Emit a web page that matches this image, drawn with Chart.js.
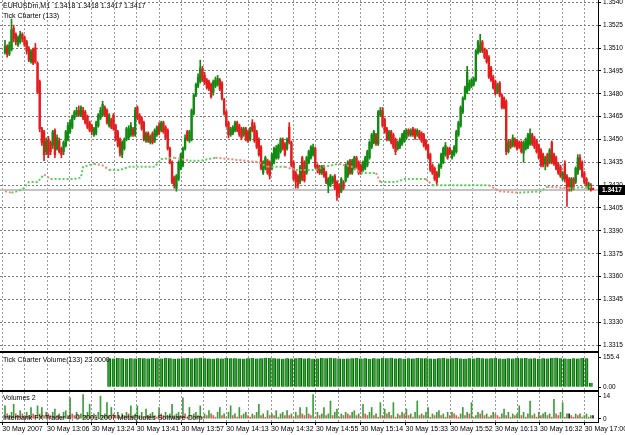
<!DOCTYPE html>
<html><head><meta charset="utf-8">
<script src="https://cdn.jsdelivr.net/npm/chart.js@4.4.1/dist/chart.umd.min.js"></script>
<style>html,body{margin:0;padding:0;background:#fff;overflow:hidden}#wrap{position:relative;width:625px;height:435px}</style>
</head><body><div id="wrap"><canvas id="c" width="625" height="435"></canvas></div>
<script>
const symbolName = 'EURUSDm,M1';
const indicatorName = 'Tick Charter (133)';
const tickVolName = 'Tick Charter Volume(133)';
const volName = 'Volumes';
const copyright = 'Interbank FX Trader 4, \u00a9 2001-2007 MetaQuotes Software Corp.';

const timeLabels = ['30 May 2007','30 May 13:06','30 May 13:24','30 May 13:41','30 May 13:57','30 May 14:13','30 May 14:32','30 May 14:55','30 May 15:14','30 May 15:33','30 May 15:52','30 May 16:13','30 May 16:32','30 May 17:00'];
const priceTicks = [1.3315,1.3330,1.3345,1.3360,1.3375,1.3390,1.3405,1.3420,1.3435,1.3450,1.3465,1.3480,1.3495,1.3510,1.3525,1.3540];
const tickVolTicks = [0, 155.4];
const volTicks = [0, 14];

const opens = [
1.3507,1.3511,1.3506,1.3509,1.3523,1.3519,1.3512,1.3514,1.3519,1.3517,
1.3514,1.3510,1.3501,1.3509,1.3510,1.3500,1.3488,1.3457,1.3455,1.3442,
1.3450,1.3448,1.3446,1.3456,1.3444,1.3449,1.3444,1.3442,1.3446,1.3450,
1.3455,1.3458,1.3464,1.3466,1.3469,1.3466,1.3469,1.3468,1.3465,1.3461,
1.3459,1.3453,1.3454,1.3459,1.3464,1.3466,1.3471,1.3469,1.3459,1.3463,
1.3466,1.3459,1.3455,1.3450,1.3440,1.3444,1.3450,1.3451,1.3453,1.3457,
1.3453,1.3471,1.3466,1.3464,1.3461,1.3449,1.3454,1.3448,1.3454,1.3449,
1.3453,1.3459,1.3456,1.3461,1.3458,1.3456,1.3444,1.3435,1.3425,1.3418,
1.3424,1.3431,1.3433,1.3444,1.3455,1.3449,1.3450,1.3467,1.3479,1.3485,
1.3488,1.3496,1.3492,1.3489,1.3488,1.3486,1.3481,1.3485,1.3486,1.3489,
1.3487,1.3476,1.3468,1.3461,1.3453,1.3454,1.3456,1.3461,1.3459,1.3457,
1.3453,1.3457,1.3455,1.3450,1.3461,1.3459,1.3455,1.3450,1.3445,1.3428,
1.3431,1.3436,1.3435,1.3431,1.3435,1.3438,1.3438,1.3442,1.3450,1.3447,
1.3444,1.3458,1.3448,1.3435,1.3428,1.3426,1.3422,1.3438,1.3435,1.3428,
1.3435,1.3438,1.3440,1.3444,1.3433,1.3432,1.3428,1.3432,1.3428,1.3420,
1.3420,1.3422,1.3426,1.3422,1.3420,1.3416,1.3422,1.3423,1.3426,1.3436,
1.3428,1.3431,1.3438,1.3435,1.3433,1.3430,1.3431,1.3433,1.3438,1.3445,
1.3448,1.3453,1.3447,1.3466,1.3469,1.3463,1.3457,1.3450,1.3455,1.3453,
1.3450,1.3444,1.3445,1.3447,1.3449,1.3451,1.3456,1.3453,1.3457,1.3456,
1.3453,1.3455,1.3454,1.3453,1.3449,1.3446,1.3440,1.3433,1.3431,1.3428,
1.3426,1.3432,1.3435,1.3440,1.3444,1.3444,1.3438,1.3440,1.3442,1.3453,
1.3459,1.3468,1.3477,1.3481,1.3483,1.3485,1.3486,1.3489,1.3507,1.3508,
1.3514,1.3509,1.3508,1.3504,1.3497,1.3491,1.3488,1.3481,1.3487,1.3479,
1.3477,1.3475,1.3442,1.3449,1.3446,1.3450,1.3449,1.3448,1.3448,1.3441,
1.3444,1.3445,1.3447,1.3453,1.3451,1.3449,1.3446,1.3443,1.3440,1.3434,
1.3440,1.3435,1.3448,1.3440,1.3438,1.3434,1.3432,1.3424,1.3434,1.3426,
1.3424,1.3418,1.3424,1.3422,1.3428,1.3438,1.3435,1.3428,1.3424,1.3418,
1.3420,1.3418];
const highs = [
1.3515,1.3512,1.3514,1.3529,1.3525,1.3520,1.3518,1.3521,1.3520,1.3518,
1.3515,1.3511,1.3509,1.3510,1.3513,1.3501,1.3489,1.3458,1.3456,1.3451,
1.3452,1.3449,1.3456,1.3457,1.3453,1.3451,1.3445,1.3449,1.3456,1.3461,
1.3463,1.3466,1.3469,1.3471,1.3472,1.3472,1.3471,1.3469,1.3466,1.3462,
1.3460,1.3458,1.3462,1.3467,1.3471,1.3475,1.3472,1.3470,1.3467,1.3464,
1.3467,1.3460,1.3456,1.3451,1.3449,1.3451,1.3458,1.3459,1.3461,1.3458,
1.3471,1.3472,1.3467,1.3465,1.3462,1.3455,1.3455,1.3453,1.3455,1.3457,
1.3459,1.3461,1.3462,1.3462,1.3459,1.3457,1.3445,1.3436,1.3426,1.3427,
1.3436,1.3441,1.3445,1.3453,1.3456,1.3456,1.3470,1.3480,1.3487,1.3493,
1.3502,1.3498,1.3494,1.3490,1.3489,1.3487,1.3489,1.3491,1.3492,1.3490,
1.3488,1.3477,1.3469,1.3462,1.3458,1.3459,1.3462,1.3462,1.3460,1.3458,
1.3458,1.3458,1.3456,1.3458,1.3463,1.3461,1.3456,1.3451,1.3446,1.3436,
1.3439,1.3437,1.3436,1.3441,1.3445,1.3446,1.3447,1.3451,1.3451,1.3448,
1.3451,1.3461,1.3449,1.3436,1.3429,1.3427,1.3433,1.3439,1.3436,1.3439,
1.3443,1.3446,1.3447,1.3445,1.3434,1.3433,1.3433,1.3433,1.3429,1.3425,
1.3427,1.3426,1.3427,1.3423,1.3421,1.3425,1.3423,1.3434,1.3436,1.3437,
1.3437,1.3439,1.3439,1.3436,1.3434,1.3436,1.3439,1.3443,1.3449,1.3454,
1.3456,1.3454,1.3469,1.3471,1.3471,1.3464,1.3458,1.3456,1.3456,1.3454,
1.3451,1.3449,1.3451,1.3454,1.3456,1.3457,1.3457,1.3457,1.3458,1.3457,
1.3457,1.3456,1.3455,1.3454,1.3450,1.3447,1.3441,1.3434,1.3432,1.3429,
1.3434,1.3441,1.3445,1.3448,1.3445,1.3445,1.3443,1.3446,1.3456,1.3462,
1.3472,1.3478,1.3485,1.3498,1.3489,1.3490,1.3491,1.3509,1.3515,1.3519,
1.3515,1.3510,1.3509,1.3505,1.3498,1.3492,1.3489,1.3487,1.3488,1.3480,
1.3478,1.3476,1.3450,1.3450,1.3453,1.3451,1.3450,1.3449,1.3449,1.3449,
1.3451,1.3454,1.3457,1.3454,1.3452,1.3450,1.3447,1.3444,1.3441,1.3439,
1.3441,1.3444,1.3449,1.3441,1.3439,1.3435,1.3433,1.3429,1.3436,1.3427,
1.3425,1.3425,1.3425,1.3432,1.3440,1.3440,1.3436,1.3429,1.3425,1.3422,
1.3421,1.3418];
const lows = [
1.3506,1.3504,1.3505,1.3508,1.3514,1.3512,1.3511,1.3513,1.3514,1.3511,
1.3506,1.3501,1.3500,1.3499,1.3500,1.3480,1.3455,1.3446,1.3436,1.3440,
1.3438,1.3440,1.3444,1.3438,1.3443,1.3441,1.3438,1.3440,1.3445,1.3449,
1.3454,1.3457,1.3463,1.3465,1.3465,1.3465,1.3463,1.3460,1.3457,1.3455,
1.3453,1.3452,1.3453,1.3458,1.3463,1.3465,1.3465,1.3460,1.3458,1.3457,
1.3456,1.3449,1.3445,1.3439,1.3438,1.3443,1.3449,1.3450,1.3452,1.3452,
1.3452,1.3463,1.3460,1.3456,1.3449,1.3448,1.3448,1.3447,1.3447,1.3448,
1.3452,1.3453,1.3455,1.3454,1.3450,1.3443,1.3434,1.3421,1.3418,1.3416,
1.3423,1.3430,1.3432,1.3443,1.3449,1.3448,1.3449,1.3466,1.3478,1.3484,
1.3487,1.3488,1.3486,1.3483,1.3482,1.3477,1.3479,1.3484,1.3485,1.3482,
1.3476,1.3466,1.3458,1.3451,1.3452,1.3453,1.3455,1.3455,1.3452,1.3450,
1.3452,1.3449,1.3448,1.3449,1.3455,1.3448,1.3444,1.3439,1.3430,1.3427,
1.3430,1.3427,1.3424,1.3430,1.3434,1.3437,1.3437,1.3441,1.3443,1.3439,
1.3443,1.3447,1.3432,1.3423,1.3418,1.3418,1.3421,1.3423,1.3422,1.3427,
1.3434,1.3437,1.3439,1.3431,1.3428,1.3427,1.3427,1.3425,1.3421,1.3415,
1.3419,1.3421,1.3417,1.3410,1.3412,1.3415,1.3417,1.3422,1.3425,1.3427,
1.3427,1.3430,1.3431,1.3427,1.3427,1.3429,1.3430,1.3432,1.3437,1.3444,
1.3447,1.3446,1.3446,1.3465,1.3458,1.3454,1.3449,1.3449,1.3447,1.3444,
1.3440,1.3443,1.3444,1.3446,1.3448,1.3450,1.3452,1.3452,1.3452,1.3450,
1.3452,1.3450,1.3448,1.3445,1.3443,1.3437,1.3429,1.3427,1.3423,1.3420,
1.3425,1.3431,1.3434,1.3439,1.3437,1.3440,1.3437,1.3439,1.3441,1.3452,
1.3458,1.3467,1.3476,1.3480,1.3482,1.3484,1.3485,1.3488,1.3506,1.3507,
1.3507,1.3503,1.3500,1.3490,1.3488,1.3483,1.3479,1.3480,1.3478,1.3470,
1.3470,1.3440,1.3441,1.3444,1.3445,1.3445,1.3443,1.3444,1.3441,1.3435,
1.3443,1.3444,1.3446,1.3446,1.3444,1.3441,1.3437,1.3432,1.3432,1.3430,
1.3432,1.3434,1.3434,1.3433,1.3430,1.3427,1.3425,1.3423,1.3422,1.3406,
1.3416,1.3416,1.3417,1.3421,1.3427,1.3430,1.3425,1.3421,1.3418,1.3417,
1.3416,1.3417];
const closes = [
1.3511,1.3506,1.3512,1.3522,1.3516,1.3514,1.3517,1.3519,1.3516,1.3512,
1.3508,1.3502,1.3508,1.3500,1.3501,1.3481,1.3457,1.3448,1.3440,1.3449,
1.3440,1.3442,1.3455,1.3440,1.3451,1.3442,1.3440,1.3448,1.3455,1.3459,
1.3461,1.3465,1.3468,1.3469,1.3466,1.3471,1.3464,1.3461,1.3458,1.3456,
1.3455,1.3457,1.3461,1.3466,1.3469,1.3473,1.3466,1.3461,1.3466,1.3458,
1.3457,1.3450,1.3446,1.3441,1.3448,1.3450,1.3457,1.3457,1.3459,1.3453,
1.3469,1.3464,1.3461,1.3457,1.3450,1.3454,1.3449,1.3452,1.3448,1.3456,
1.3458,1.3454,1.3461,1.3455,1.3451,1.3444,1.3435,1.3422,1.3420,1.3426,
1.3435,1.3440,1.3444,1.3451,1.3450,1.3455,1.3469,1.3479,1.3486,1.3491,
1.3497,1.3489,1.3487,1.3484,1.3483,1.3478,1.3488,1.3489,1.3490,1.3483,
1.3477,1.3467,1.3459,1.3453,1.3457,1.3458,1.3461,1.3456,1.3453,1.3451,
1.3457,1.3450,1.3449,1.3457,1.3456,1.3449,1.3445,1.3440,1.3431,1.3435,
1.3438,1.3428,1.3426,1.3440,1.3444,1.3444,1.3446,1.3450,1.3444,1.3440,
1.3450,1.3448,1.3433,1.3424,1.3422,1.3420,1.3432,1.3424,1.3423,1.3438,
1.3442,1.3445,1.3445,1.3432,1.3430,1.3428,1.3432,1.3426,1.3422,1.3424,
1.3426,1.3425,1.3418,1.3413,1.3415,1.3424,1.3418,1.3433,1.3435,1.3428,
1.3436,1.3438,1.3432,1.3428,1.3428,1.3435,1.3438,1.3442,1.3448,1.3453,
1.3455,1.3447,1.3468,1.3469,1.3459,1.3455,1.3450,1.3455,1.3448,1.3445,
1.3442,1.3448,1.3450,1.3453,1.3455,1.3456,1.3453,1.3456,1.3453,1.3451,
1.3456,1.3451,1.3449,1.3446,1.3444,1.3438,1.3430,1.3428,1.3424,1.3422,
1.3433,1.3440,1.3444,1.3446,1.3438,1.3441,1.3442,1.3445,1.3455,1.3461,
1.3471,1.3477,1.3484,1.3494,1.3487,1.3489,1.3490,1.3508,1.3514,1.3512,
1.3508,1.3504,1.3501,1.3491,1.3489,1.3484,1.3480,1.3486,1.3479,1.3471,
1.3471,1.3442,1.3448,1.3445,1.3451,1.3446,1.3444,1.3445,1.3442,1.3448,
1.3450,1.3453,1.3454,1.3447,1.3445,1.3442,1.3438,1.3433,1.3433,1.3438,
1.3433,1.3443,1.3435,1.3434,1.3431,1.3428,1.3426,1.3428,1.3424,1.3418,
1.3418,1.3424,1.3418,1.3431,1.3438,1.3431,1.3426,1.3422,1.3420,1.3421,
1.3417,1.3417];

const overlayIdx = [0,3,8,11,15,18,21,25,32,35,36,41,45,48,53,57,62,69,72,78,85,90,97,104,111,117,121,129,134,143,147,154,160,164,171,173,180,184,194,197,210,223,228,237,247,250,260,271];
const overlayVal = [1.3416,1.3415,1.3417,1.3422,1.3422,1.3427,1.3424,1.3424,1.3424,1.3425,1.3432,1.3434,1.3433,1.3430,1.3430,1.3432,1.3432,1.3432,1.3437,1.3438,1.3436,1.3436,1.3438,1.3437,1.3436,1.3435,1.3432,1.3432,1.3430,1.3430,1.3432,1.3434,1.3432,1.3428,1.3428,1.3422,1.3422,1.3424,1.3424,1.3420,1.3420,1.3420,1.3416,1.3415,1.3416,1.3419,1.3418,1.3419];

const tickVolFirstBar = 48;
const tickVol = [
152,151,153,152,150,152,151,153,152,151,
154,152,151,153,152,150,151,152,153,151,
152,155,152,151,150,152,151,153,152,152,
151,150,152,153,151,152,155,153,152,151,
150,152,151,152,153,151,152,150,151,153,
152,155,152,151,150,151,152,153,151,152,
150,152,151,153,152,155,151,152,150,152,
151,153,152,152,151,150,152,154,151,152,
153,151,150,152,151,155,152,151,152,153,
151,150,152,151,153,152,154,151,152,150,
152,151,153,155,152,151,150,152,151,153,
152,23];

const vols = [
8,3,2,4,9,3,2,5,3,2,4,2,7,3,2,8,3,7,2,4,
3,2,4,6,2,3,1,4,5,2,13,3,2,4,2,3,15,2,4,9,
2,3,1,4,14,2,3,10,2,7,3,2,4,1,3,2,4,3,8,2,
3,8,2,4,1,6,2,3,4,2,1,7,3,2,4,1,3,9,2,3,
4,2,13,3,1,7,2,3,4,2,8,1,3,2,5,3,2,1,4,7,
2,3,1,4,8,2,3,1,7,2,3,4,2,1,3,2,4,9,2,3,
1,5,2,3,2,5,1,3,4,2,5,2,3,1,4,2,7,3,2,7,
3,2,15,1,4,2,3,7,2,3,11,2,4,6,1,3,2,4,3,2,
4,5,2,3,1,9,3,2,4,7,2,3,1,10,2,6,3,4,2,10,
1,3,2,4,3,6,2,3,1,4,11,2,3,2,4,7,1,3,2,4,
5,2,3,1,4,2,4,3,2,1,3,7,2,4,3,10,1,2,4,3,
5,2,3,1,2,4,3,2,1,3,6,2,4,1,3,2,3,8,2,4,
1,3,11,2,3,1,4,2,3,4,2,3,1,12,3,2,4,10,1,3,
3,2,1,3,2,3,1,2,3,1,2,2];

Chart.defaults.font.family = '"Liberation Sans", Arial, sans-serif';
Chart.defaults.font.size = 7;
Chart.defaults.color = '#000';

const N = closes.length;
const UP = '#108a10', DN = '#e41c1c';
const isUp = i => closes[i] >= opens[i];
const last = N - 1;
const fmt = v => v.toFixed(4);
const titleText = symbolName + '  ' + fmt(opens[last]) + ' ' + fmt(highs[last]) + ' ' + fmt(lows[last]) + ' ' + fmt(closes[last]);

const gridStart = -1.244, gridStep = 10.324;
const xTickVals = [];
for (let k = 0; k < timeLabels.length * 2 - 1; k++) xTickVals.push(gridStart + gridStep * k);

const decor = {
  id: 'decor',
  beforeDatasetsDraw(chart) {
    const {ctx, chartArea: a, scales: {y}} = chart;
    const py = Math.round(y.getPixelForValue(closes[last]));
    ctx.save();
    ctx.strokeStyle = '#c4c4c4'; ctx.lineWidth = 2;
    ctx.beginPath(); ctx.moveTo(a.left, py); ctx.lineTo(a.right, py); ctx.stroke();
    ctx.restore();
  },
  afterDraw(chart) {
    const {ctx, chartArea: a, scales: {y, y2, y3}} = chart;
    ctx.save();
    ctx.fillStyle = '#000';
    ctx.fillRect(a.left, Math.round(y2.top) - 1, a.right - a.left, 2);
    ctx.fillRect(a.left, Math.round(y3.top) - 1, a.right - a.left, 2);
    ctx.font = '7px "Liberation Sans", Arial, sans-serif';
    ctx.textBaseline = 'middle'; ctx.textAlign = 'left';
    ctx.fillText(titleText, 3, 6);
    ctx.fillText(indicatorName, 3, 16);
    ctx.fillText(tickVolName + ' ' + tickVol[tickVol.length - 1].toFixed(4), 3, y2.top + 8);
    ctx.fillText(volName + ' ' + vols[last], 3, y3.top + 7);
    ctx.fillText(copyright, 3, a.bottom - 4);
    const py = Math.round(y.getPixelForValue(closes[last]));
    ctx.fillStyle = '#000';
    ctx.fillRect(y.left + 1, py - 5, 27, 10);
    ctx.fillStyle = '#fff';
    ctx.font = 'bold 6.5px "Liberation Sans", Arial, sans-serif';
    ctx.fillText(fmt(closes[last]), y.left + 4, py);
    ctx.restore();
  }
};

const yCommon = {
  type: 'linear', position: 'right', stack: 'panes', beginAtZero: false,
  afterFit: s => { s.width = 27; s.paddingTop = 0; s.paddingBottom = 0; },
};

new Chart(document.getElementById('c'), {
  type: 'bar',
  data: {
    datasets: [
      { type: 'line', xAxisID: 'x', yAxisID: 'y', order: 0,
        data: overlayIdx.map((x, i) => ({x, y: overlayVal[i]})),
        borderWidth: 2, borderDash: [2, 2], pointRadius: 0, tension: 0,
        borderColor: '#5ccf5c',
        segment: { borderColor: c => c.p1.parsed.y < c.p0.parsed.y ? '#f0887a' : '#5ccf5c' } },
      { xAxisID: 'x', yAxisID: 'y', order: 1, grouped: false, barThickness: 1.7, minBarLength: 1,
        data: opens.map((o, i) => ({x: i, y: [o, closes[i]]})),
        backgroundColor: c => isUp(c.dataIndex) ? UP : DN },
      { xAxisID: 'x', yAxisID: 'y', order: 2, grouped: false, barThickness: 1,
        data: highs.map((h, i) => ({x: i, y: [lows[i], h]})),
        backgroundColor: c => isUp(c.dataIndex) ? UP : DN },
      { xAxisID: 'x', yAxisID: 'y2', order: 3, grouped: false, barThickness: 3.2,
        data: tickVol.map((v, i) => ({x: tickVolFirstBar + 2 * i, y: v})),
        backgroundColor: '#2fa82f', borderColor: '#0c5c0c', borderWidth: {left: 1, right: 1, top: 0, bottom: 0}, borderSkipped: false },
      { xAxisID: 'x', yAxisID: 'y3', order: 4, grouped: false, barThickness: 1,
        data: vols.map((v, i) => ({x: i, y: v})),
        backgroundColor: c => { const i = c.dataIndex; if (i === 0) return '#3d9d3d';
          return vols[i] > vols[i-1] ? '#3d9d3d' : (vols[i] < vols[i-1] ? '#d85a5a' : '#222'); } }
    ]
  },
  options: {
    responsive: false, animation: false, devicePixelRatio: 1,
    layout: { padding: 0 },
    plugins: { legend: { display: false }, tooltip: { enabled: false } },
    scales: {
      x: { type: 'linear', position: 'bottom', min: -2.3, max: 273.3, offset: false,
        afterBuildTicks: s => { s.ticks = xTickVals.map(v => ({value: v})); },
        afterFit: s => { s.height = 13; s.paddingLeft = 0; s.paddingRight = 0; },
        ticks: { autoSkip: false, maxRotation: 0, minRotation: 0, align: 'start', padding: 0,
          font: { size: 7 }, color: '#000',
          callback: (v, i) => i % 2 === 0 ? timeLabels[i / 2] : '' },
        grid: { offset: false, color: '#9a9a9a', lineWidth: 1, tickLength: 3,
          tickColor: c => c.index % 2 === 0 ? '#000' : 'rgba(0,0,0,0)' },
        border: { display: true, color: '#000', width: 1, dash: [2, 2] } },
      y: Object.assign({}, yCommon, { stackWeight: 352, min: 1.33105, max: 1.35415,
        afterBuildTicks: s => { s.ticks = priceTicks.map(v => ({value: v})); },
        ticks: { callback: v => v.toFixed(4), font: { size: 6.5 }, padding: 2, color: '#000' },
        grid: { color: '#7a7a7a', lineWidth: 1, tickLength: 3, tickColor: '#000' },
        border: { display: true, color: '#000', width: 1, dash: [2, 2] } }),
      y2: Object.assign({}, yCommon, { stackWeight: 39, min: -20, max: 185,
        afterBuildTicks: s => { s.ticks = tickVolTicks.map(v => ({value: v})); },
        ticks: { callback: v => v === 0 ? '0.00' : String(v), font: { size: 6.5 }, padding: 2, color: '#000' },
        grid: { drawOnChartArea: false, tickLength: 3, tickColor: '#000' },
        border: { display: true, color: '#000', width: 1 } }),
      y3: Object.assign({}, yCommon, { stackWeight: 31, min: -2, max: 17.2,
        afterBuildTicks: s => { s.ticks = volTicks.map(v => ({value: v})); },
        ticks: { callback: v => String(v), font: { size: 6.5 }, padding: 2, color: '#000' },
        grid: { drawOnChartArea: false, tickLength: 3, tickColor: '#000' },
        border: { display: true, color: '#000', width: 1 } })
    }
  },
  plugins: [decor]
});
</script>
</body></html>
